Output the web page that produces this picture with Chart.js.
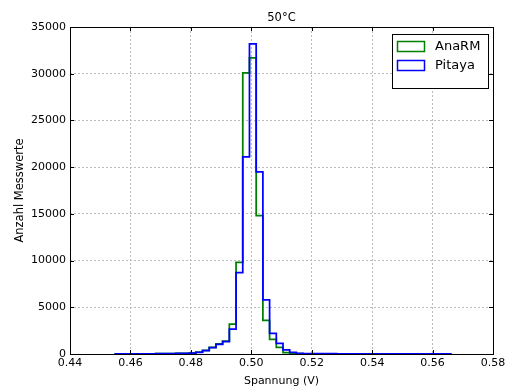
<!DOCTYPE html>
<html>
<head>
<meta charset="utf-8">
<script src="https://cdn.jsdelivr.net/npm/chart.js@4"></script>
<style>
  body { margin: 0; background: #fff; }
  #wrap { width: 511px; height: 389px; }
</style>
</head>
<body>
<div id="wrap"><canvas id="histChart"></canvas></div>
<script>
// histogram bins (same 50 bins for both series)
const binStart = 0.455;
const binWidth = 0.00222;

// counts per bin
const anaRM = [8, 10, 12, 15, 18, 22, 28, 35, 45, 60,
    80, 100, 200, 380, 700, 1080, 1380, 3200, 9800, 30100,
    31700, 14800, 3600, 1560, 700, 150, 50, 30, 20, 15,
    12, 10, 9, 8, 7, 6, 5, 5, 4, 4,
    3, 3, 3, 2, 2, 2, 2, 1, 1, 1];
const pitaya = [8, 10, 12, 15, 18, 22, 28, 35, 45, 60,
    80, 90, 180, 360, 680, 1040, 1320, 2650, 8700, 21100,
    33200, 19500, 5800, 2200, 1140, 430, 180, 80, 50, 40,
    35, 30, 28, 25, 22, 20, 18, 16, 15, 14,
    12, 11, 10, 9, 8, 7, 6, 5, 5, 4];

const xTicks = { min: 0.44, max: 0.58, step: 0.02 };
const yTicks = { min: 0, max: 35000, step: 5000 };
const chartTitle = '50°C';

// outline points for a step histogram
function stepPoints(counts) {
    const pts = [{ x: binStart, y: 0 }];
    counts.forEach((c, i) => pts.push({ x: binStart + i * binWidth, y: c }));
    const end = binStart + counts.length * binWidth;
    pts.push({ x: end, y: counts[counts.length - 1] });
    pts.push({ x: end, y: 0 });
    return pts;
}

const FONT = "'DejaVu Sans', sans-serif";
Chart.defaults.font.family = FONT;
Chart.defaults.color = '#000';

// frame, inward ticks, title over the axes and the boxed legend (matplotlib look)
const mplFrame = {
    id: 'mplFrame',
    afterDraw(chart) {
        const { ctx, chartArea: a, scales } = chart;
        ctx.save();
        ctx.strokeStyle = '#000';
        ctx.lineWidth = 1;
        ctx.beginPath();
        scales.x.ticks.forEach(t => {
            const px = Math.round(scales.x.getPixelForValue(t.value)) + 0.5;
            ctx.moveTo(px, a.bottom); ctx.lineTo(px, a.bottom - 4);
            ctx.moveTo(px, a.top); ctx.lineTo(px, a.top + 4);
        });
        scales.y.ticks.forEach(t => {
            const py = Math.round(scales.y.getPixelForValue(t.value)) + 0.5;
            ctx.moveTo(a.left, py); ctx.lineTo(a.left + 4, py);
            ctx.moveTo(a.right, py); ctx.lineTo(a.right - 4, py);
        });
        ctx.stroke();
        ctx.strokeRect(Math.round(a.left) + 0.5, Math.round(a.top) + 0.5,
            Math.round(a.right - a.left), Math.round(a.bottom - a.top));

        // title, centred on the plot area
        ctx.fillStyle = '#000';
        ctx.font = '11.5px ' + FONT;
        ctx.textAlign = 'center';
        ctx.textBaseline = 'middle';
        ctx.fillText(chartTitle, (a.left + a.right) / 2, a.top - 9);

        // legend
        const bx = a.right - 101, by = a.top + 7, bw = 96, bh = 54;
        ctx.fillStyle = '#fff';
        ctx.fillRect(bx, by, bw, bh);
        ctx.strokeRect(bx + 0.5, by + 0.5, bw, bh);
        ctx.font = '13px ' + FONT;
        ctx.textAlign = 'left';
        chart.data.datasets.forEach((ds, i) => {
            const cy = by + 12 + i * 19;
            ctx.strokeStyle = ds.borderColor;
            ctx.lineWidth = 1.5;
            ctx.strokeRect(bx + 5.5, cy - 4.5, 27, 10);
            ctx.fillStyle = '#000';
            ctx.fillText(ds.label, bx + 43, cy + 1);
        });
        ctx.restore();
    }
};

const ctx = document.getElementById('histChart').getContext('2d');
new Chart(ctx, {
    type: 'line',
    data: {
        datasets: [
            {
                label: 'AnaRM',
                data: stepPoints(anaRM),
                borderColor: '#008000',
                borderWidth: 1.75,
                stepped: 'before',
                pointRadius: 0,
                fill: false,
                order: 2
            },
            {
                label: 'Pitaya',
                data: stepPoints(pitaya),
                borderColor: '#0000ff',
                borderWidth: 1.75,
                stepped: 'before',
                pointRadius: 0,
                fill: false,
                order: 1
            }
        ]
    },
    options: {
        responsive: true,
        maintainAspectRatio: false,
        animation: false,
        layout: { padding: { top: 27, right: 18, bottom: 0, left: 0 } },
        plugins: {
            legend: { display: false },
            tooltip: { enabled: false },
            title: { display: false }
        },
        scales: {
            x: {
                type: 'linear',
                min: xTicks.min,
                max: xTicks.max,
                afterFit: s => { s.height = 35; },
                grid: { color: '#bbbbbb', drawTicks: false },
                border: { display: false, dash: [2, 2] },
                ticks: {
                    stepSize: xTicks.step,
                    padding: 3,
                    font: { size: 11 },
                    callback: v => v.toFixed(2)
                },
                title: {
                    display: true,
                    text: 'Spannung (V)',
                    font: { size: 11 },
                    padding: { top: 0, bottom: 1.5 }
                }
            },
            y: {
                min: yTicks.min,
                max: yTicks.max,
                afterFit: s => { s.width = 70; },
                grid: { color: '#bbbbbb', drawTicks: false },
                border: { display: false, dash: [2, 2] },
                ticks: {
                    stepSize: yTicks.step,
                    padding: 4,
                    font: { size: 11 },
                    callback: v => String(v)
                },
                title: {
                    display: true,
                    text: 'Anzahl Messwerte',
                    font: { size: 11.5 },
                    padding: { top: 13.4, bottom: 0 }
                }
            }
        }
    },
    plugins: [mplFrame]
});
</script>
</body>
</html>
